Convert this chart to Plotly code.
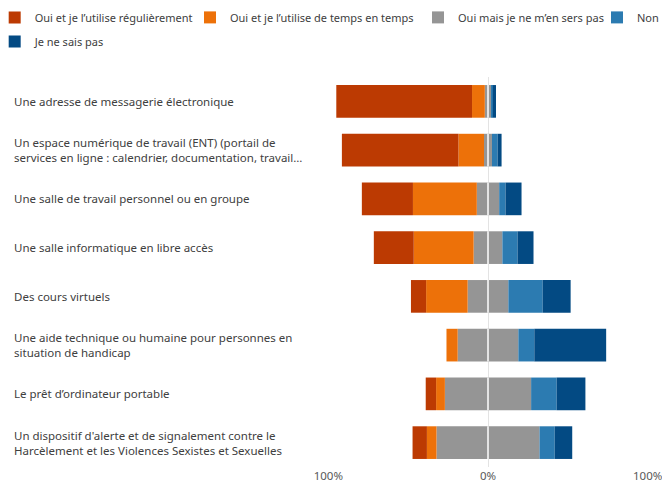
import plotly.graph_objects as go

categories = [
    "Une adresse de messagerie électronique",
    "Un espace numérique de travail (ENT) (portail de<br>services en ligne : calendrier, documentation, travail…",
    "Une salle de travail personnel ou en groupe",
    "Une salle informatique en libre accès",
    "Des cours virtuels",
    "Une aide technique ou humaine pour personnes en<br>situation de handicap",
    "Le prêt d’ordinateur portable",
    "Un dispositif d'alerte et de signalement contre le<br>Harcèlement et les Violences Sexistes et Sexuelles",
]
keys = list(range(len(categories)))

# percentages per answer
regulier = [85, 73, 32, 25, 9.5, 0, 6.5, 9]
temps = [8, 16, 40, 37.5, 26, 7, 5.5, 6]
sers_pas = [4, 5, 14, 18, 25.5, 38, 54, 64.5]
non = [1, 3.5, 4, 9.5, 21.5, 10, 16, 9.5]
ne_sais_pas = [2, 2.5, 10, 10, 17.5, 45, 18, 11]

series_names = ["Oui et je l’utilise régulièrement", "Oui et je l’utilise de temps en temps",
                "Oui mais je ne m’en sers pas", "Non", "Je ne sais pas"]
colors = ["#BC3A02", "#ED7109", "#959595", "#2C7BB1", "#034A83"]

half_gray = [v / 2 for v in sers_pas]

fig = go.Figure()

def add_bar(name, vals, color, show=True, legend='legend'):
    fig.add_trace(go.Bar(
        name=name,
        y=keys,
        x=vals,
        orientation='h',
        width=0.67,
        marker=dict(color=color, line=dict(width=0)),
        legend=legend,
        showlegend=show))

# negative side stacks outward from zero
add_bar(series_names[2], [-v for v in half_gray], colors[2], legend='legend3')
add_bar(series_names[1], [-v for v in temps], colors[1], legend='legend2')
add_bar(series_names[0], [-v for v in regulier], colors[0], legend='legend')
# positive side
add_bar(series_names[2], half_gray, colors[2], show=False)
add_bar(series_names[3], non, colors[3], legend='legend4')
add_bar(series_names[4], ne_sais_pas, colors[4], legend='legend5')

# white split at zero across each bar
for k in keys:
    fig.add_shape(type='line', x0=0, x1=0, y0=k - 0.335, y1=k + 0.335,
                  xref='x', yref='y', line=dict(color='white', width=1.5), layer='above')

for k, cat in zip(keys, categories):
    fig.add_annotation(text=cat, x=-0.9875, xref='paper', y=k, yref='y',
                       xanchor='left', align='left', showarrow=False,
                       font=dict(size=11.5, color='#404040'))

legend_style = dict(
    orientation='h',
    xanchor='left',
    yanchor='top',
    bgcolor='rgba(0,0,0,0)',
    font=dict(size=11, color='#404040'),
    itemwidth=30)

fig.update_layout(
    barmode='relative',
    width=662,
    height=484,
    margin=dict(l=328, r=14, t=77, b=17, autoexpand=False),
    paper_bgcolor='white',
    plot_bgcolor='white',
    font=dict(family="Segoe UI, Noto Sans, sans-serif", size=11.5, color='#404040'),
    legend=dict(legend_style, x=-1.0416, y=1.19),
    legend2=dict(legend_style, x=-0.4313, y=1.19),
    legend3=dict(legend_style, x=0.2813, y=1.19),
    legend4=dict(legend_style, x=0.8406, y=1.19),
    legend5=dict(legend_style, x=-1.0416, y=1.128),
    xaxis=dict(
        range=[-100.2, 100.2],
        tickvals=[-100, 0, 100],
        ticktext=['100%', '0%', '100%'],
        showgrid=True,
        gridcolor='#E3E3E3',
        gridwidth=1,
        zeroline=False,
        ticklabeloverflow='allow',
        tickfont=dict(color='#595959', size=11.5),
        fixedrange=True),
    yaxis=dict(
        autorange='reversed',
        showticklabels=False,
        showgrid=False,
        zeroline=False,
        fixedrange=True),
    bargap=0.33)

fig.write_html("out.html", config={'displayModeBar': False},
               post_script="document.body.style.margin='0';")
